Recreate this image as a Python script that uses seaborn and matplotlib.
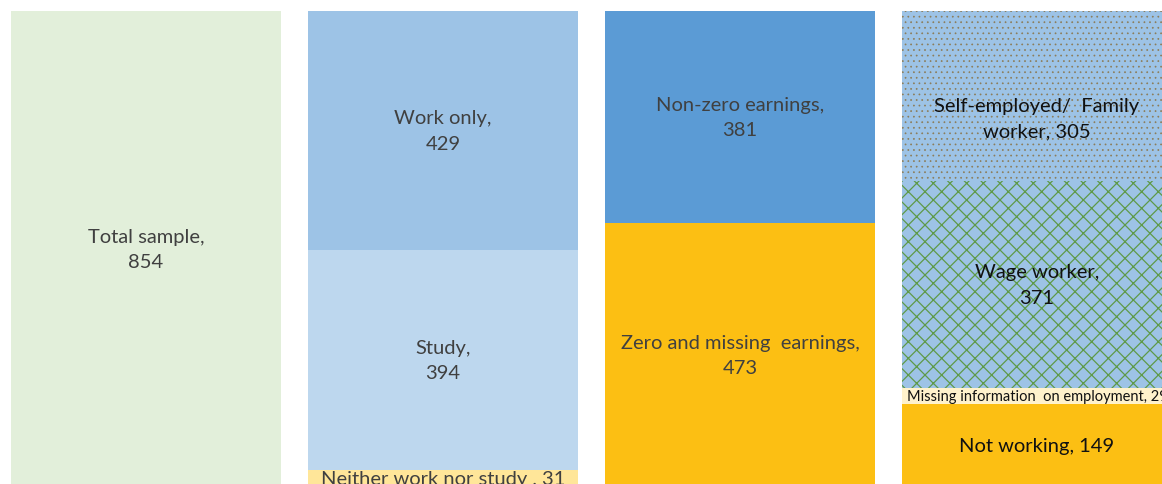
import matplotlib
matplotlib.use("Agg")
import matplotlib.pyplot as plt
import pandas as pd
import seaborn as sns

# one stacked column per breakdown, segments listed bottom -> top
columns = ["Total", "Activity", "Earnings", "Employment"]

seg_column = ["Total",
              "Activity", "Activity", "Activity",
              "Earnings", "Earnings",
              "Employment", "Employment", "Employment", "Employment"]
seg_label = ["Total sample,\n854",
             "Neither work nor study , 31", "Study,\n394", "Work only,\n429",
             "Zero and missing  earnings,\n473", "Non-zero earnings,\n381",
             "Not working, 149", "Missing information  on employment, 29",
             "Wage worker,\n371", "Self-employed/  Family\nworker, 305"]
seg_value = [854,
             31, 394, 429,
             473, 381,
             149, 29, 371, 305]

# styling kept apart from the values
seg_color = ["#E2EFDA",
             "#FFE699", "#BDD7EE", "#9DC3E6",
             "#FCBF13", "#5B9BD5",
             "#FCBF13", "#FFF2CC", "#9DC3E6", "#9DC3E6"]
seg_hatch = [None, None, None, None, None, None, None, None, "xx", "..."]
seg_hatch_color = [None] * 8 + ["#5E9A48", "#8C7C58"]
seg_hatch_width = [None] * 8 + [0.9, 0.5]
seg_text_color = ["#404040"] * 6 + ["#111111"] * 4
seg_fontsize = [14.5] * 7 + [10.5] + [14.5, 14.5]
seg_nudge = [0] * 9 + [-40]

plt.rcParams["hatch.linewidth"] = 0.9

df = pd.DataFrame({"column": seg_column, "label": seg_label, "value": seg_value})
df["top"] = df.groupby("column")["value"].cumsum()
df["bottom"] = df["top"] - df["value"]

fig, ax = plt.subplots(figsize=(11.62, 4.85), dpi=100)
fig.subplots_adjust(left=0, right=1, bottom=0, top=1)

# draw cumulative heights, tallest first, so each lower segment covers the one above it
for i in df.sort_values("top", ascending=False).index:
    row = df.loc[i]
    sns.barplot(x=[row["column"]], y=[row["top"]], order=columns, color=seg_color[i],
                width=0.912, saturation=1, ax=ax)
    bar = ax.patches[-1]
    bar.set_linewidth(0)
    if seg_hatch[i]:
        bar.set_hatch(seg_hatch[i])
        bar.set_edgecolor(seg_hatch_color[i])
        if hasattr(bar, "set_hatch_linewidth"):
            bar.set_hatch_linewidth(seg_hatch_width[i])

for i, row in df.iterrows():
    xpos = columns.index(row["column"])
    ypos = (row["top"] + row["bottom"]) / 2 + seg_nudge[i]
    ax.text(xpos, ypos, row["label"], ha="center", va="center", fontsize=seg_fontsize[i],
            color=seg_text_color[i], family="Lato", linespacing=1.6, clip_on=False)

ax.set_xlim(-0.4916, 3.421)
ax.set_ylim(5.4, 875.5)
ax.axis("off")

fig.savefig("out.png", dpi=100)
